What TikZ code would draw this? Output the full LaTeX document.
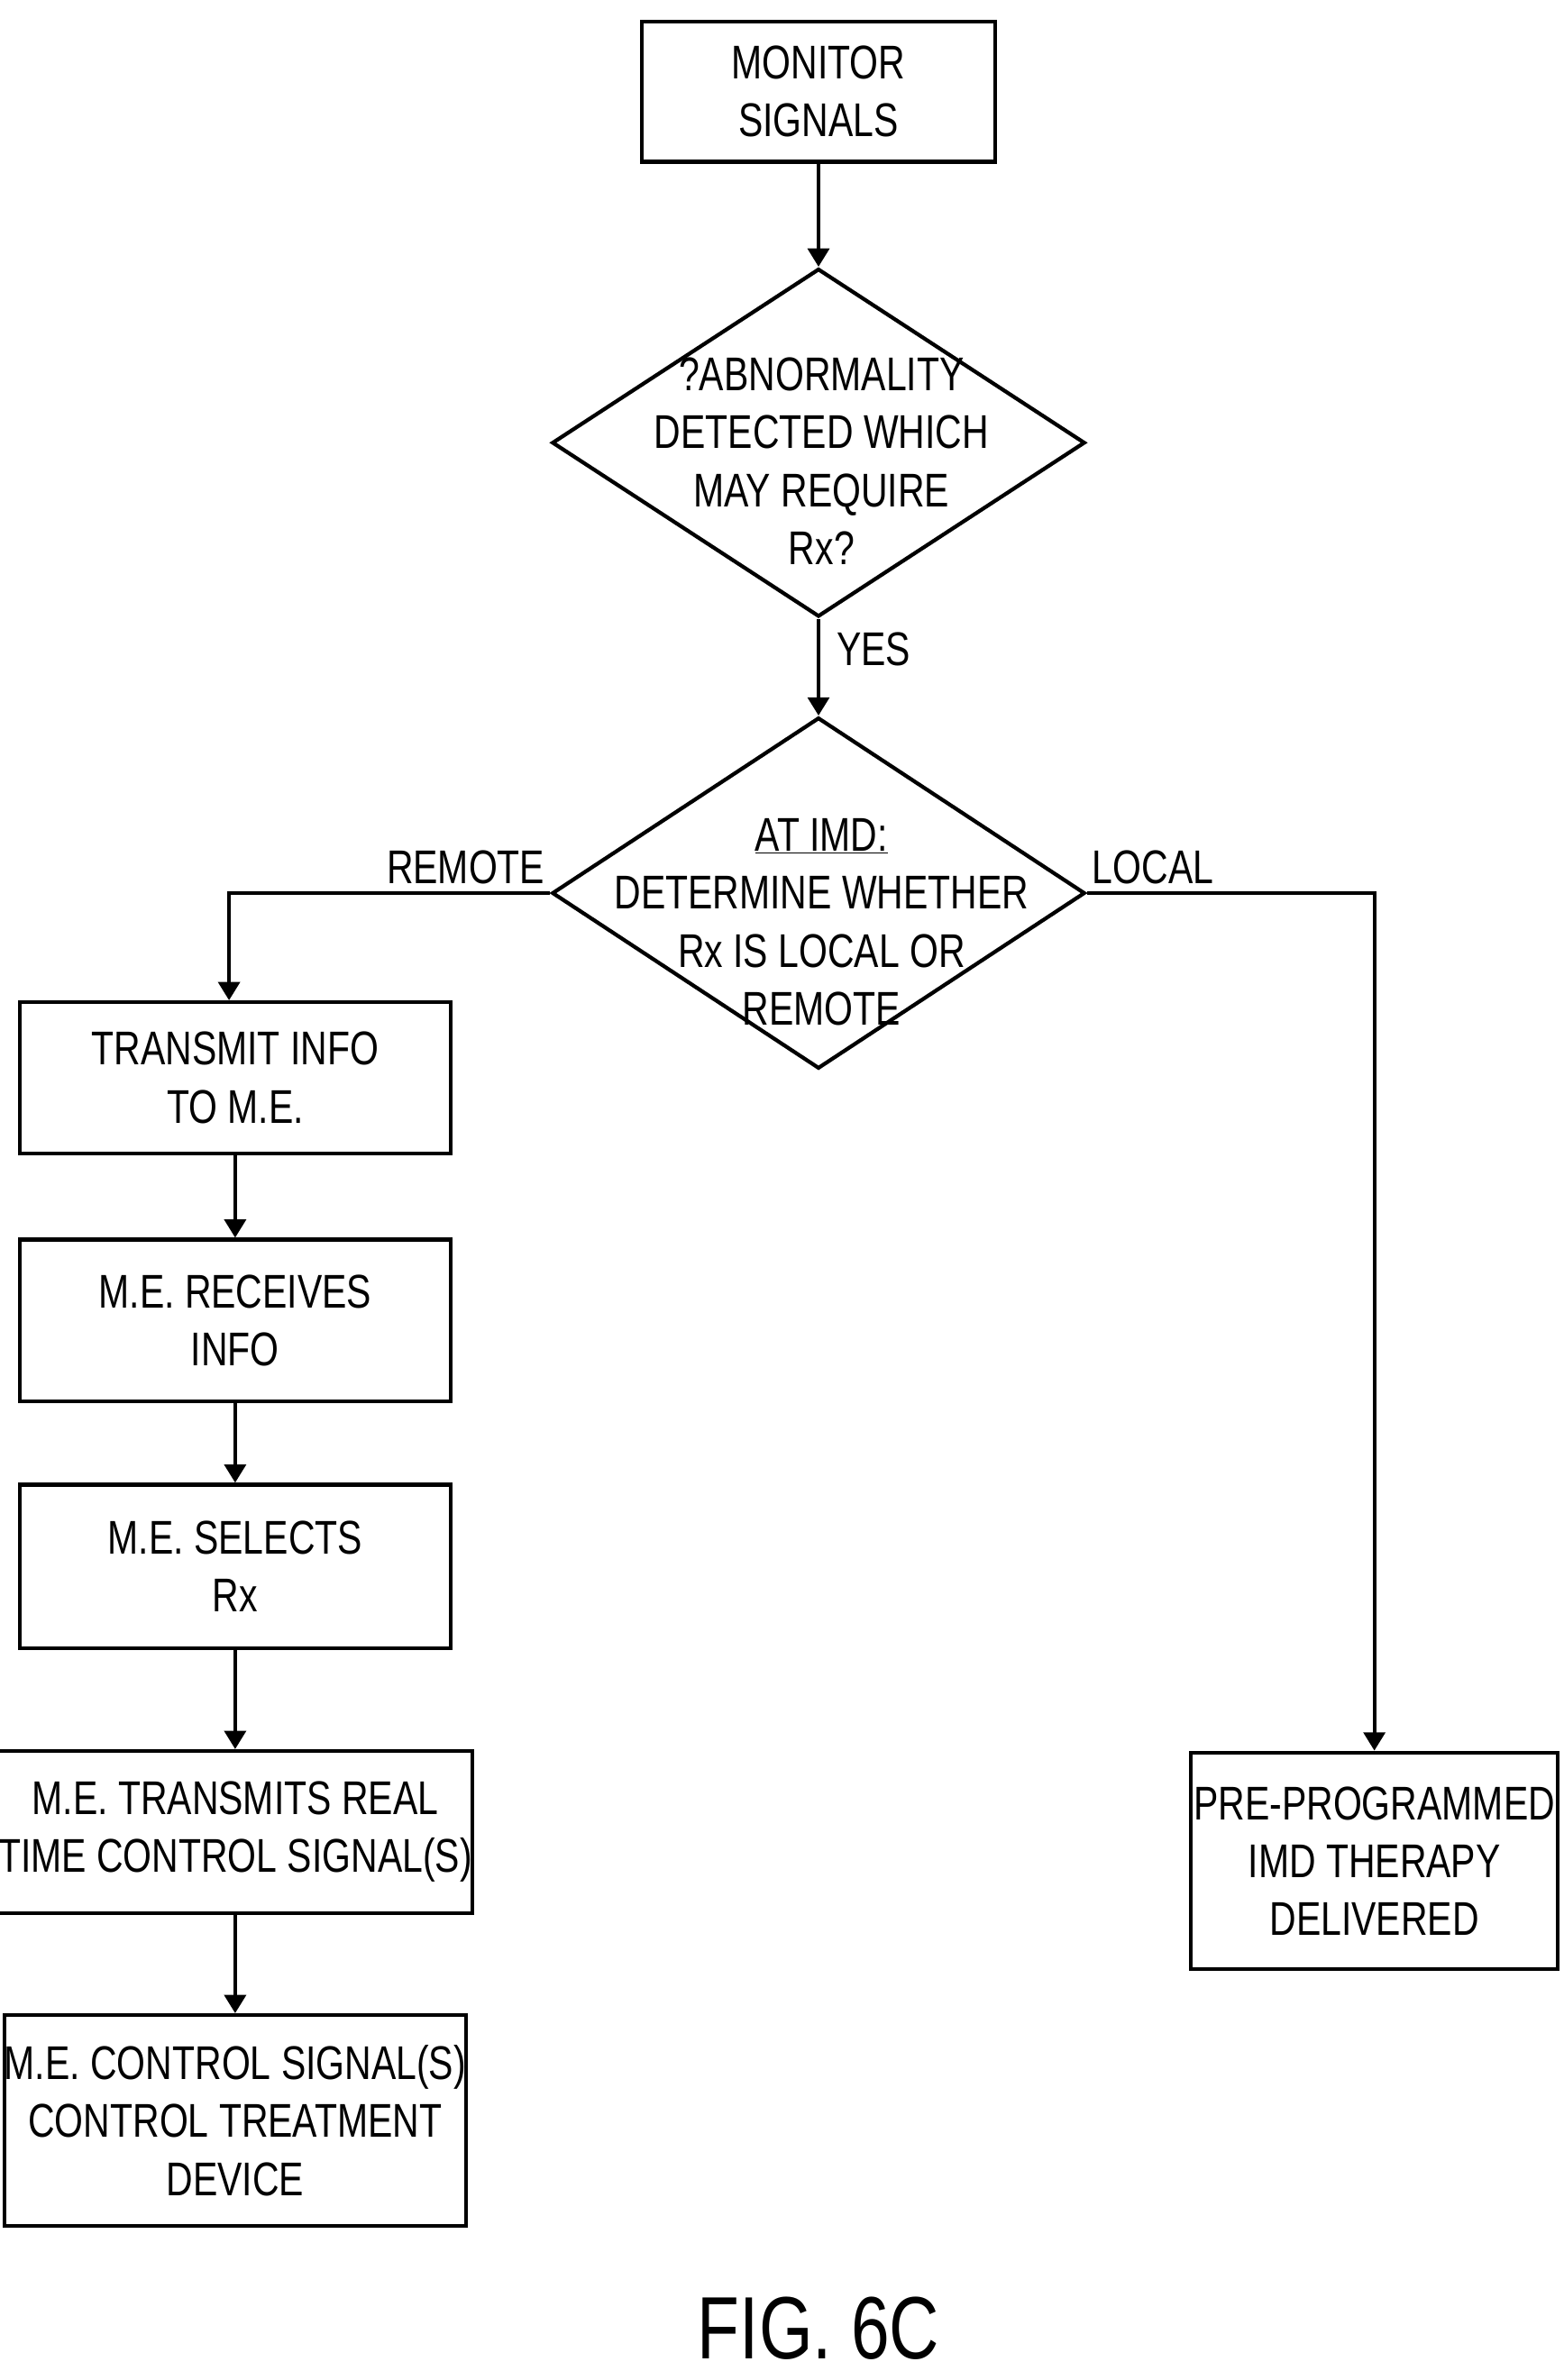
\documentclass[tikz,border=0pt]{standalone}
\usepackage{fontspec}
\setmainfont{Liberation Sans}[FakeStretch=0.78]
\usetikzlibrary{shapes.geometric,arrows.meta}
\begin{document}
\begin{tikzpicture}[x=1pt,y=-1pt,
  txt/.style={font=\fontsize{31}{38}\selectfont,align=center},
  box/.style={draw,line width=2.5pt,txt,inner sep=0pt},
  dia/.style={draw,line width=2.5pt,diamond,txt,inner sep=0pt},
  arr/.style={line width=2.5pt,-{Triangle[width=14pt,length=12pt]}}]
\useasboundingbox (0,0) rectangle (1024,1559);
\node[box,minimum width=231,minimum height=92] (mon) at (536,60) {MONITOR\\SIGNALS};
\node[dia,minimum width=349,minimum height=228] (d1) at (536,290) {};
\node[txt] (d1t) at (538,302) {?ABNORMALITY\\DETECTED WHICH\\MAY REQUIRE\\Rx?};
\node[dia,minimum width=349,minimum height=230] (d2) at (536,585) {};
\node[txt] (d2t) at (538,604) {\underline{AT IMD:}\\DETERMINE WHETHER\\Rx IS LOCAL OR\\REMOTE};
\node[txt] (yes) at (572,425) {YES};
\node[txt] (rem) at (305,568) {REMOTE};
\node[txt] (loc) at (755,568) {LOCAL};
\node[box,minimum width=282,minimum height=99] (b1) at (154,706) {TRANSMIT INFO\\TO M.E.};
\node[box,minimum width=282,minimum height=106] (b2) at (154,865) {M.E. RECEIVES\\INFO};
\node[box,minimum width=282,minimum height=107] (b3) at (154,1026) {M.E. SELECTS\\Rx};
\node[box,minimum width=282,minimum height=106] (b4) at (154,1200) {M.E. TRANSMITS REAL\\TIME CONTROL SIGNAL(S)};
\node[box,minimum width=282,minimum height=138] (b5) at (154,1389) {M.E. CONTROL SIGNAL(S)\\CONTROL TREATMENT\\DEVICE};
\node[box,minimum width=240,minimum height=142] (r1) at (900,1219) {PRE-PROGRAMMED\\IMD THERAPY\\DELIVERED};
\node[font=\fontsize{58}{60}\selectfont] (fig) at (536,1525) {FIG. 6C};
\draw[arr] (mon) -- (d1);
\draw[arr] (d1) -- (d2);
\draw[arr] (d2.west) -| (b1.north -| 150,0);
\draw[arr] (d2.east) -| (r1.north);
\draw[arr] (b1) -- (b2);
\draw[arr] (b2) -- (b3);
\draw[arr] (b3) -- (b4);
\draw[arr] (b4) -- (b5);
\end{tikzpicture}
\end{document}
